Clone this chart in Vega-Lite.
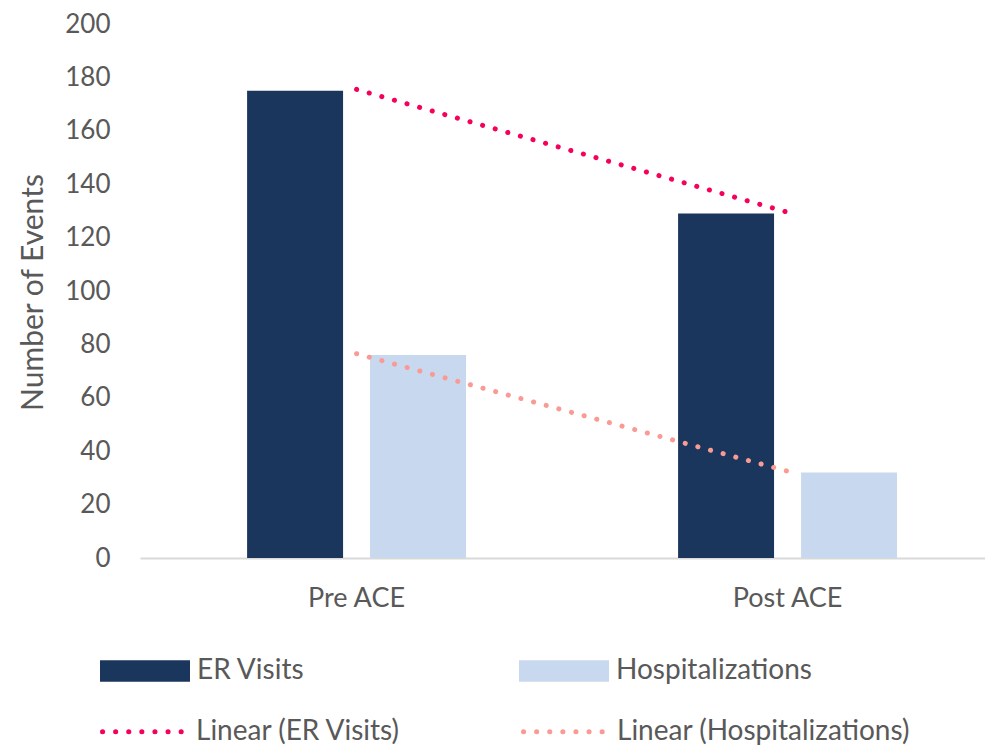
{
  "$schema": "https://vega.github.io/schema/vega-lite/v6.json",
  "width": 845,
  "height": 534,
  "autosize": {"type": "none"},
  "padding": {"left": 140, "top": 24, "right": 0, "bottom": 187},
  "background": "white",
  "config": {
    "font": "Lato",
    "view": {"stroke": null},
    "legend": {"padding": 0, "titlePadding": 0}
  },
  "datasets": {
    "bars": [
      {"period": "Pre ACE", "series": "ER Visits", "events": 175},
      {"period": "Pre ACE", "series": "Hospitalizations", "events": 76},
      {"period": "Post ACE", "series": "ER Visits", "events": 129},
      {"period": "Post ACE", "series": "Hospitalizations", "events": 32}
    ],
    "trends": [
      {"period": "Pre ACE", "trend": "Linear (ER Visits)", "value": 175.5},
      {"period": "Post ACE", "trend": "Linear (ER Visits)", "value": 129.5},
      {"period": "Pre ACE", "trend": "Linear (Hospitalizations)", "value": 76.5},
      {"period": "Post ACE", "trend": "Linear (Hospitalizations)", "value": 32.5}
    ]
  },
  "layer": [
    {
      "data": {"name": "bars"},
      "mark": {"type": "bar"},
      "encoding": {
        "x": {
          "field": "period",
          "type": "nominal",
          "sort": ["Pre ACE", "Post ACE"],
          "scale": {"paddingInner": 0.492, "paddingOuter": 0.2263, "align": 0.549},
          "axis": {
            "title": null,
            "labelAngle": 0,
            "labelFontSize": 27,
            "labelColor": "#595959",
            "labelPadding": 27,
            "ticks": false,
            "grid": false,
            "domainColor": "#d9d9d9",
            "domainWidth": 2
          }
        },
        "xOffset": {
          "field": "series",
          "type": "nominal",
          "sort": ["ER Visits", "Hospitalizations"],
          "scale": {"paddingInner": 0.2195, "paddingOuter": 0}
        },
        "y": {
          "field": "events",
          "type": "quantitative",
          "scale": {"domain": [0, 200], "nice": false},
          "axis": {
            "values": [0, 20, 40, 60, 80, 100, 120, 140, 160, 180, 200],
            "grid": false,
            "domain": false,
            "ticks": false,
            "labelPadding": 30,
            "labelFontSize": 26,
            "labelColor": "#595959",
            "title": "Number of Events",
            "titleFontSize": 30,
            "titleFontWeight": "normal",
            "titleColor": "#595959",
            "titleX": -107,
            "titleY": 268,
            "titleAngle": -90,
            "titleAlign": "center",
            "titleBaseline": "middle"
          }
        },
        "fill": {
          "field": "series",
          "type": "nominal",
          "scale": {"domain": ["ER Visits", "Hospitalizations"], "range": ["#1b365d", "#c8d9ef"]},
          "legend": {
            "title": null,
            "orient": "none",
            "legendX": -40,
            "legendY": 602,
            "direction": "horizontal",
            "columns": 2,
            "columnPadding": 214,
            "symbolType": "M-1,-0.24H1V0.24H-1Z",
            "symbolSize": 8100,
            "symbolStrokeWidth": 0,
            "labelFontSize": 28,
            "labelColor": "#595959",
            "labelOffset": 7,
            "labelLimit": 500
          }
        }
      }
    },
    {
      "data": {"name": "trends"},
      "mark": {"type": "line", "strokeWidth": 5, "strokeDash": [0.1, 13], "strokeCap": "round"},
      "encoding": {
        "x": {"field": "period", "type": "nominal", "sort": ["Pre ACE", "Post ACE"]},
        "y": {"field": "value", "type": "quantitative"},
        "stroke": {
          "field": "trend",
          "type": "nominal",
          "scale": {"domain": ["Linear (ER Visits)", "Linear (Hospitalizations)"], "range": ["#f5005a", "#fa9a94"]},
          "legend": {
            "title": null,
            "orient": "none",
            "legendX": -40,
            "legendY": 660,
            "direction": "horizontal",
            "columns": 2,
            "columnPadding": 112,
            "symbolType": "stroke",
            "symbolSize": 8100,
            "symbolStrokeWidth": 5,
            "symbolDash": [0.1, 13],
            "labelFontSize": 28,
            "labelColor": "#595959",
            "labelOffset": 1,
            "labelLimit": 500,
            "encode": {"symbols": {"update": {"strokeCap": {"value": "round"}}}}
          }
        }
      }
    }
  ]
}
